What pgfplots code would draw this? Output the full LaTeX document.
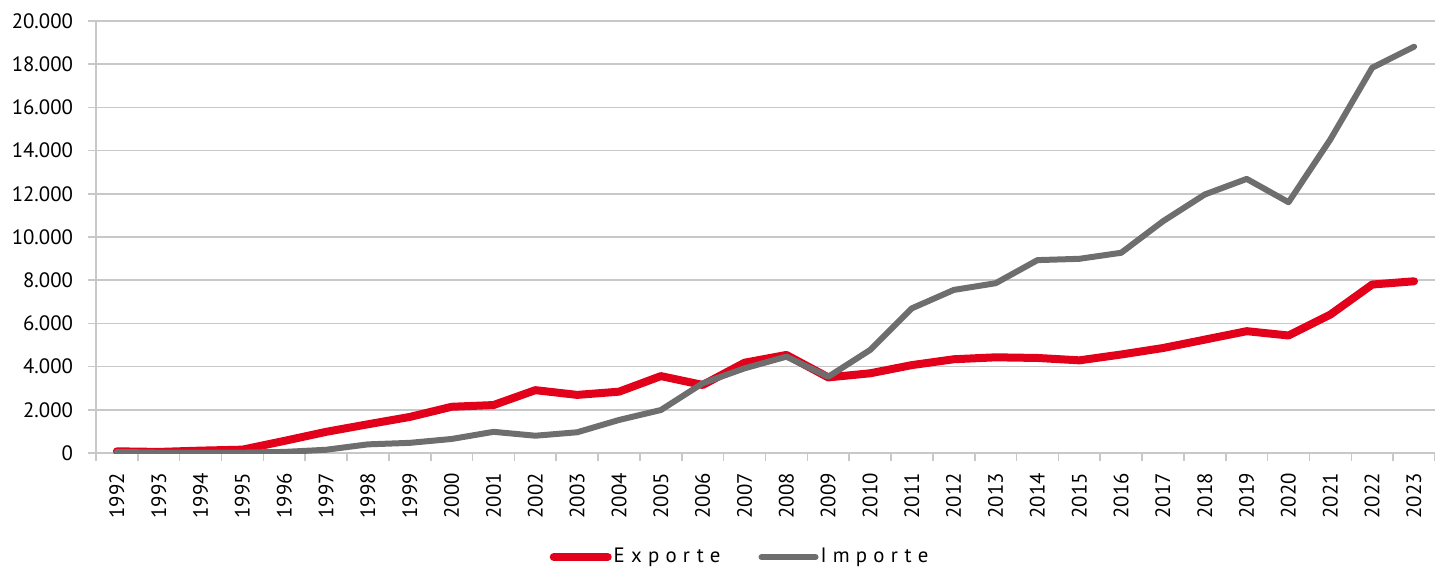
\documentclass[border=0pt]{standalone}
\usepackage{fontspec}
\setmainfont{PT Sans}
\usepackage{pgfplots}
\pgfplotsset{compat=1.18}
\usetikzlibrary{calc}
\definecolor{expred}{RGB}{226,0,26}
\definecolor{impgray}{RGB}{110,110,110}
\definecolor{gridgray}{RGB}{200,200,200}
\begin{document}
\begin{tikzpicture}
\begin{axis}[
  name=ax,
  scale only axis,
  width=669.5pt, height=216pt,
  xmin=1991.5, xmax=2023.5,
  ymin=0, ymax=20000,
  ytick={0,2000,...,20000},
  xtick={1992,...,2023},
  minor xtick={1991.5,1992.5,...,2023.5},
  major x tick style={draw=none},
  minor x tick style={gridgray, line width=0.8pt},
  minor tick length=4pt,
  major tick length=4pt,
  tick align=outside,
  axis x line*=bottom,
  axis y line*=left,
  axis line style={gridgray, line width=0.8pt, -},
  y tick style={gridgray, line width=0.8pt},
  ymajorgrids,
  grid style={gridgray, line width=0.8pt},
  /pgf/number format/assume math mode=true,
  /pgf/number format/.cd, 1000 sep={.},
  /pgfplots/.cd,
  x tick label style={rotate=90, anchor=east, font=\fontsize{10.4}{12}\selectfont, /pgf/number format/1000 sep={}},
  xticklabel shift=2.5pt,
  y tick label style={font=\fontsize{10.4}{12}\selectfont},
  yticklabel shift=4pt,
  scaled y ticks=false,
  legend style={draw=none, at={(0.481,-0.241)}, anchor=center, legend columns=2,
    font=\fontsize{10.4}{12}\selectfont\addfontfeature{LetterSpace=30},
    nodes={inner sep=1pt}, /tikz/every even column/.append style={column sep=18pt}},
  legend cell align=left,
  legend image code/.code={\draw[line cap=round] (0pt,0pt) -- (27pt,0pt);},
]
\addplot[expred, line width=4pt, line join=round, line cap=round] coordinates {
(1992,78) (1993,50) (1994,110) (1995,155) (1996,560) (1997,980) (1998,1330) (1999,1670)
(2000,2140) (2001,2220) (2002,2910) (2003,2690) (2004,2840) (2005,3560) (2006,3150)
(2007,4180) (2008,4540) (2009,3500) (2010,3690) (2011,4070) (2012,4340) (2013,4430)
(2014,4400) (2015,4290) (2016,4560) (2017,4860) (2018,5250) (2019,5640) (2020,5440)
(2021,6410) (2022,7800) (2023,7950)};
\addlegendentry{Exporte}
\addplot[impgray, line width=3pt, line join=round, line cap=round] coordinates {
(1992,50) (1993,20) (1994,20) (1995,20) (1996,50) (1997,150) (1998,400) (1999,470)
(2000,650) (2001,980) (2002,800) (2003,960) (2004,1530) (2005,1990) (2006,3230)
(2007,3920) (2008,4460) (2009,3530) (2010,4770) (2011,6700) (2012,7550) (2013,7860)
(2014,8930) (2015,8990) (2016,9270) (2017,10730) (2018,11970) (2019,12690) (2020,11610)
(2021,14520) (2022,17840) (2023,18810)};
\addlegendentry{Importe}
\end{axis}
\pgfresetboundingbox
\path[use as bounding box] ($(ax.south west)+(-48pt,-60.5pt)$) rectangle ($(ax.north east)+(0pt,10.5pt)$);
\end{tikzpicture}
\end{document}
